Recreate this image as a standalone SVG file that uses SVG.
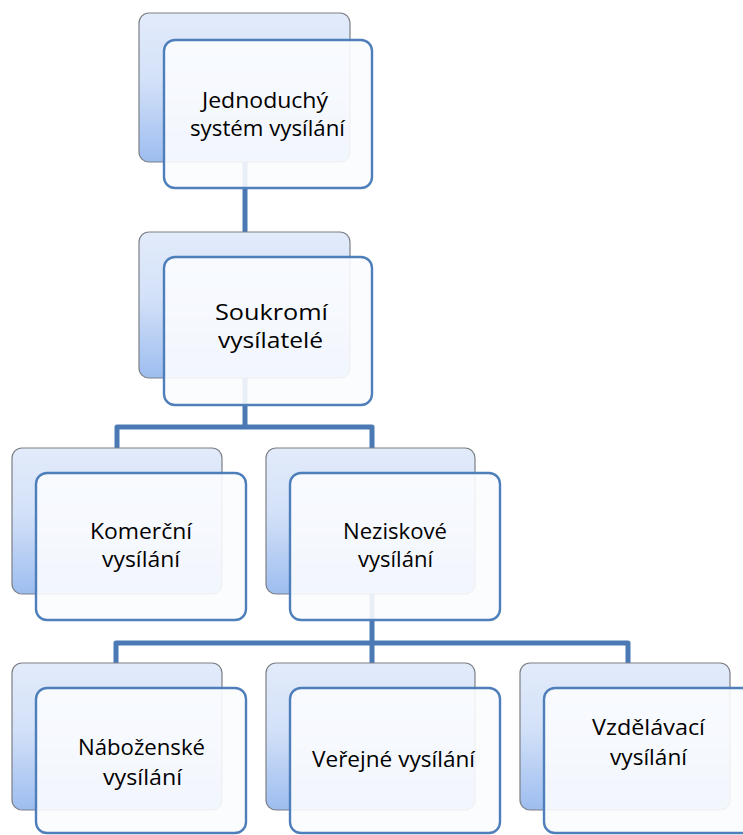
<svg xmlns="http://www.w3.org/2000/svg" width="743" height="835" viewBox="0 0 743 835">
<defs>
<linearGradient id="bg" x1="0" y1="0" x2="0" y2="1">
<stop offset="0" stop-color="#e2ebfa"/>
<stop offset="0.45" stop-color="#d3e1f8"/>
<stop offset="1" stop-color="#9dbdf0"/>
</linearGradient>
<style>
.back{fill:url(#bg);stroke:#7c7f86;stroke-width:1.2}
.front{fill:#fbfcfe;fill-opacity:0.9;stroke:#4f7fbb;stroke-width:2.4}
.conn{fill:none;stroke:#4b79b3;stroke-width:5;stroke-linejoin:round}
text{font-family:"Open Sans","Liberation Sans",Arial,sans-serif;font-size:21px;fill:#000}
</style>
</defs>
<rect width="743" height="835" fill="#fff"/>
<g id="connectors">
<path class="conn" d="M245 150 V234"/>
<path class="conn" d="M245 370 V427"/>
<path class="conn" d="M117 450 V427 H372 V450"/>
<path class="conn" d="M372 590 V665"/>
<path class="conn" d="M116 665 V643 H628 V665"/>
</g>
<g id="n1">
<rect class="back" x="139" y="13" width="211" height="149" rx="10"/>
<rect class="front" x="164" y="40" width="208" height="148" rx="11"/>
<text x="202" y="108" textLength="126" lengthAdjust="spacingAndGlyphs">Jednoduchý</text>
<text x="190" y="136" textLength="155" lengthAdjust="spacingAndGlyphs">systém vysílání</text>
</g>
<g id="n2">
<rect class="back" x="139" y="232" width="211" height="146" rx="10"/>
<rect class="front" x="164" y="257" width="208" height="148" rx="11"/>
<text x="215" y="320" textLength="113" lengthAdjust="spacingAndGlyphs">Soukromí</text>
<text x="218" y="348" textLength="105" lengthAdjust="spacingAndGlyphs">vysílatelé</text>
</g>
<g id="n3">
<rect class="back" x="12" y="448" width="210" height="146" rx="10"/>
<rect class="front" x="36" y="473" width="210" height="147" rx="11"/>
<text x="90" y="539" textLength="102" lengthAdjust="spacingAndGlyphs">Komerční</text>
<text x="102" y="567" textLength="78" lengthAdjust="spacingAndGlyphs">vysílání</text>
</g>
<g id="n4">
<rect class="back" x="266" y="448" width="209" height="146" rx="10"/>
<rect class="front" x="290" y="473" width="210" height="147" rx="11"/>
<text x="343" y="539" textLength="104" lengthAdjust="spacingAndGlyphs">Neziskové</text>
<text x="358" y="567" textLength="75" lengthAdjust="spacingAndGlyphs">vysílání</text>
</g>
<g id="n5">
<rect class="back" x="12" y="663" width="210" height="147" rx="10"/>
<rect class="front" x="36" y="688" width="210" height="145" rx="11"/>
<text x="78" y="755" textLength="127" lengthAdjust="spacingAndGlyphs">Náboženské</text>
<text x="103" y="785" textLength="79" lengthAdjust="spacingAndGlyphs">vysílání</text>
</g>
<g id="n6">
<rect class="back" x="266" y="663" width="209" height="147" rx="10"/>
<rect class="front" x="290" y="688" width="210" height="145" rx="11"/>
<text x="312" y="767" textLength="163" lengthAdjust="spacingAndGlyphs">Veřejné vysílání</text>
</g>
<g id="n7">
<rect class="back" x="520" y="663" width="210" height="147" rx="10"/>
<rect class="front" x="544" y="688" width="210" height="145" rx="11"/>
<text x="592" y="735" textLength="113" lengthAdjust="spacingAndGlyphs">Vzdělávací</text>
<text x="610" y="765" textLength="77" lengthAdjust="spacingAndGlyphs">vysílání</text>
</g>
</svg>
